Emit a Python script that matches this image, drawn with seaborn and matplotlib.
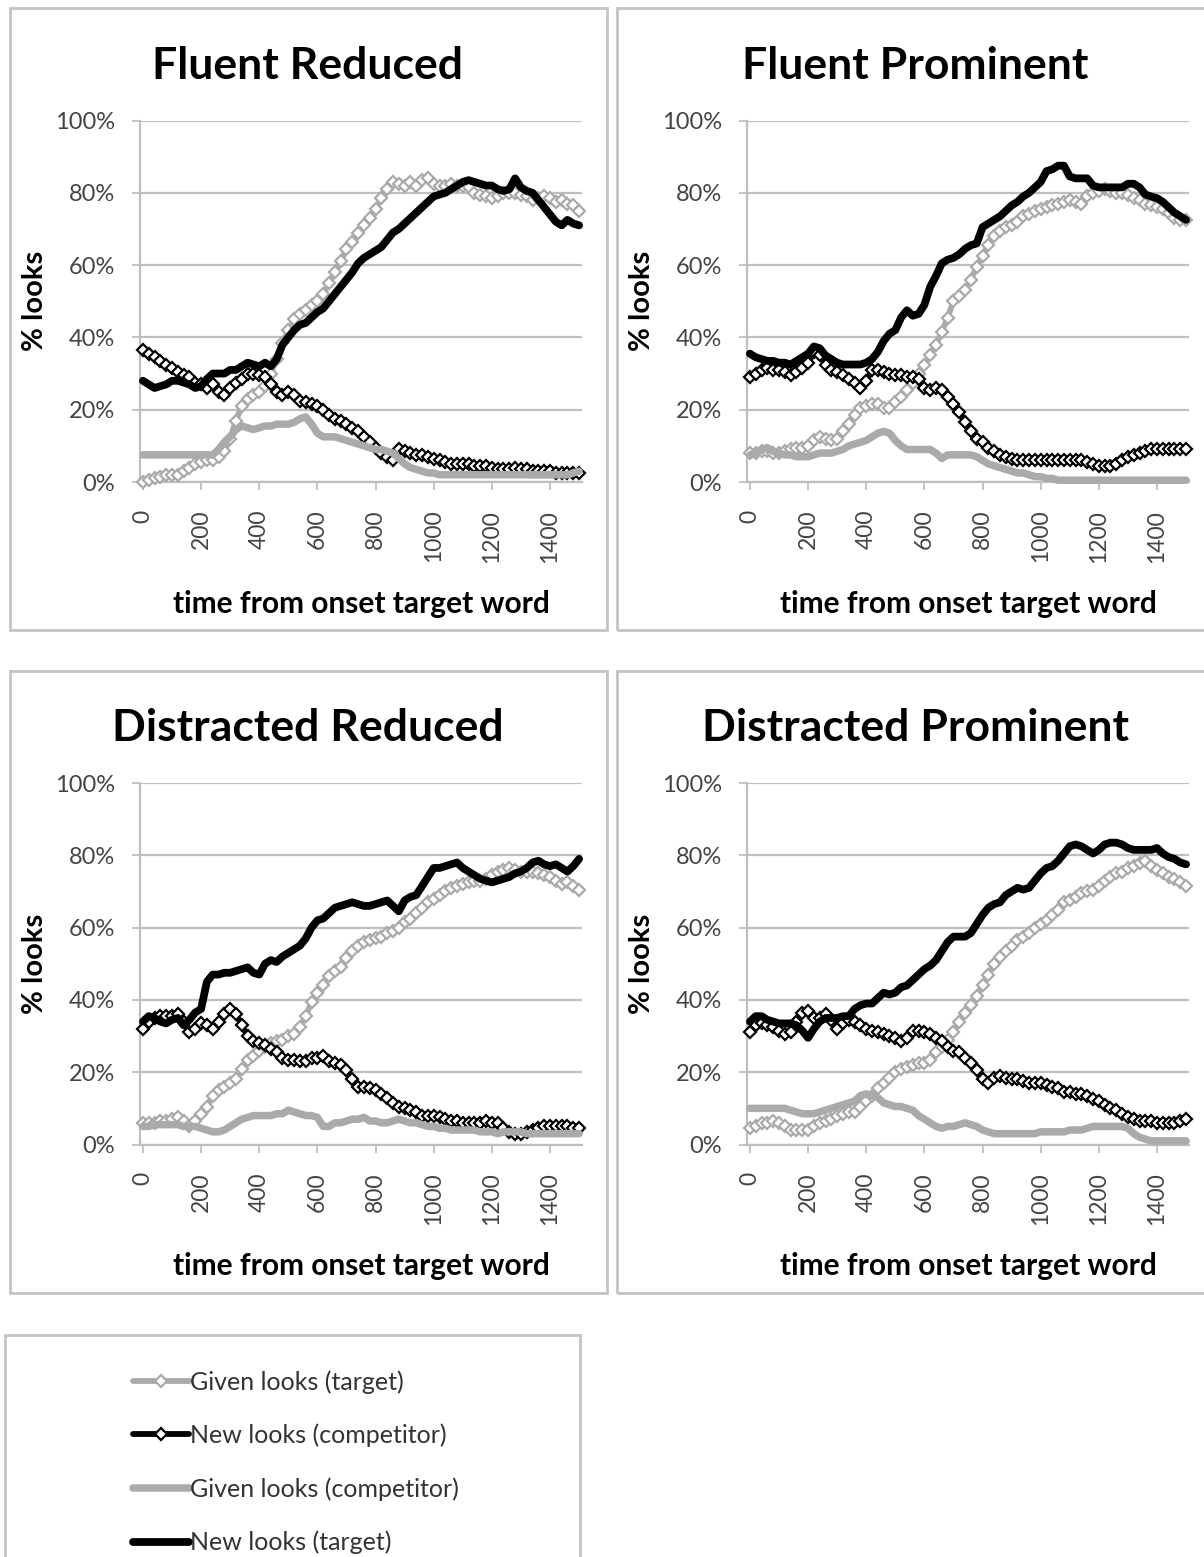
import matplotlib
matplotlib.use("Agg")
import matplotlib.pyplot as plt
from matplotlib.patches import Rectangle
from matplotlib.lines import Line2D
import seaborn as sns

# ---------------- data (percent of looks, one value every 20 ms) ----------------
time_ms = list(range(0, 1501, 20))

panel_titles = ["Fluent Reduced", "Fluent Prominent", "Distracted Reduced", "Distracted Prominent"]
series_labels = ["Given looks (target)", "New looks (competitor)",
                 "Given looks (competitor)", "New looks (target)"]
y_ticks = [0, 20, 40, 60, 80, 100]
y_tick_labels = ["0%", "20%", "40%", "60%", "80%", "100%"]
x_ticks = [0, 200, 400, 600, 800, 1000, 1200, 1400]
x_tick_labels = ["0", "200", "400", "600", "800", "1000", "1200", "1400"]
x_label = "time from onset target word"
y_label = "% looks"

# Fluent Reduced
fr_given_target = [0, 0.5, 1, 1.5, 2, 2, 2, 3, 4, 5,
                   5.5, 6, 6, 7, 8.5, 12, 17, 21, 23, 24,
                   25, 26.5, 30, 34, 38.5, 42, 45, 46.5, 47.5, 49,
                   50, 52, 55, 58, 61, 64.5, 66.5, 69, 71, 73,
                   75.5, 78.5, 81, 83, 82.5, 82, 83, 82, 83.5, 84,
                   82.5, 82, 82, 82.5, 82, 82, 81.5, 80, 79.5, 79,
                   78.5, 79, 80, 80, 80, 79.5, 79, 78, 78.5, 79,
                   78.5, 77.5, 78, 77, 76.5, 75]
fr_new_comp = [36.5, 35.5, 34.5, 33.5, 32.5, 31.5, 30.5, 29.5, 29, 27.5,
               27, 26, 27, 25, 24, 26, 27.5, 28.5, 30, 30,
               29.5, 29, 27, 25, 24, 25, 24, 22.5, 22, 21.5,
               21, 20, 18.5, 17.5, 17, 16, 15, 14, 12.5, 11,
               9.5, 8, 7, 6, 9, 8.5, 8, 7.5, 7.5, 7,
               6.5, 6, 5.5, 5, 5, 5, 5, 4.5, 4.5, 4.5,
               4, 3.5, 3.5, 3.5, 4, 3.5, 3.5, 3, 3, 3,
               3, 2.5, 2.5, 2.5, 2.5, 2.5]
fr_given_comp = [7.5, 7.5, 7.5, 7.5, 7.5, 7.5, 7.5, 7.5, 7.5, 7.5,
                 7.5, 7.5, 7.5, 9, 11, 12.5, 14.5, 15.5, 15, 14.5,
                 15, 15.5, 15.5, 16, 16, 16, 16.5, 17.5, 18, 16,
                 13.5, 12.5, 12.5, 12.5, 12, 11.5, 11, 10.5, 10, 9.5,
                 9, 9, 8.5, 8, 6.5, 5, 4, 3.5, 3, 2.5,
                 2.5, 2, 2, 2, 2, 2, 2, 2, 2, 2,
                 2, 2, 2, 2, 2, 2, 2, 2, 2, 2,
                 2, 2, 2, 2, 2.5, 3]
fr_new_target = [28, 27, 26, 26.5, 27, 28, 28, 27.5, 27, 26,
                 26.5, 28.5, 30, 30, 30, 31, 31, 32, 33, 32.5,
                 32, 33, 32, 34, 38, 40, 42, 43.5, 44, 45.5,
                 47, 48, 50, 52, 54, 56, 58, 60.5, 62, 63,
                 64, 65, 67, 69, 70, 71.5, 73, 74.5, 76, 77.5,
                 79, 79.5, 80, 81, 82, 83, 83.5, 83, 82.5, 82,
                 82, 81, 80.5, 81, 84, 81.5, 80.5, 80, 78, 76,
                 74, 72, 71, 72.5, 71.5, 71]

# Fluent Prominent
fp_given_target = [8, 8, 8.5, 8.5, 8, 8, 8.5, 9, 9.5, 9.5,
                   10, 11.5, 12.5, 12, 11.5, 12, 14, 16, 18.5, 20.5,
                   21, 21.5, 21.5, 20.5, 20.5, 22, 23.5, 25.5, 27.5, 30,
                   32.5, 35, 38, 41.5, 45.5, 50, 51.5, 53, 56, 59.5,
                   62.5, 65.5, 68, 69.5, 70.5, 71, 72, 73.5, 74, 75,
                   75.5, 76, 76.5, 77, 77.5, 78, 77.5, 77, 79, 80,
                   80.5, 81, 80.5, 80, 80, 79.5, 78.5, 78, 77, 76.5,
                   76, 75.5, 74.5, 73, 72.5, 72.5]
fp_new_comp = [29, 30, 31, 31.5, 31, 31, 30.5, 29.5, 30.5, 31.5,
               33, 36, 35, 32.5, 31, 30.5, 29.5, 28.5, 27.5, 26,
               28, 31, 31, 30.5, 30, 29.5, 29.5, 29, 29, 28.5,
               26, 25.5, 26, 25.5, 23.5, 21.5, 19.5, 16.5, 14, 12,
               11, 9.5, 8.5, 7.5, 7, 6.5, 6, 6, 6, 6,
               6, 6, 6, 6, 6, 6, 6, 6, 5.5, 5,
               4.5, 4.5, 4.5, 5, 6, 7, 7.5, 8, 8.5, 9,
               9, 9, 9, 9, 9, 9]
fp_given_comp = [7.5, 8, 9, 9.5, 8.5, 8, 7.5, 7.5, 7, 7,
                 7, 7.5, 8, 8, 8, 8.5, 9, 10, 10.5, 11,
                 11.5, 12.5, 13.5, 14, 13.5, 11.5, 10, 9, 9, 9,
                 9, 9, 8, 6.5, 7.5, 7.5, 7.5, 7.5, 7.5, 7,
                 6, 5, 4.5, 4, 3.5, 3, 2.5, 2.5, 2, 1.5,
                 1.5, 1, 1, 0.5, 0.5, 0.5, 0.5, 0.5, 0.5, 0.5,
                 0.5, 0.5, 0.5, 0.5, 0.5, 0.5, 0.5, 0.5, 0.5, 0.5,
                 0.5, 0.5, 0.5, 0.5, 0.5, 0.5]
fp_new_target = [35.5, 34.5, 34, 33.5, 33.5, 33, 33, 32.5, 33.5, 34.5,
                 35.5, 37.5, 37, 35, 34, 33, 32.5, 32.5, 32.5, 32.5,
                 33, 34, 36, 39, 41, 42, 45.5, 47.5, 46, 46.5,
                 49, 54, 57, 60.5, 61.5, 62, 63, 64.5, 65.5, 66,
                 70.5, 71.5, 72.5, 73.5, 75, 76.5, 77.5, 79, 80, 81.5,
                 83, 86, 86.5, 87.5, 87.5, 84.5, 84, 84, 84, 82,
                 81.5, 81.5, 81.5, 81.5, 81.5, 82.5, 82.5, 81.5, 79.5, 79,
                 78.5, 77.5, 76, 74.5, 73.5, 72.5]

# Distracted Reduced
dr_given_target = [6, 6, 6, 6.5, 6.5, 7, 7.5, 6.5, 5, 6.5,
                   8.5, 10.5, 13.5, 15, 16, 17, 18, 21, 23.5, 24.5,
                   26, 27, 28, 28.5, 29, 30, 30.5, 32.5, 35.5, 39.5,
                   42, 44, 46.5, 48, 49, 51.5, 53.5, 55, 56, 56.5,
                   57, 57.5, 58.5, 59, 60, 61.5, 62.5, 64, 65.5, 67,
                   68, 69, 70, 71, 71.5, 72, 72.5, 73, 73, 73.5,
                   74.5, 75.5, 76, 76.5, 76, 75.5, 75.5, 75.5, 75, 74.5,
                   74, 73, 72, 72.5, 71.5, 70.5]
dr_new_comp = [32, 34, 35, 35.5, 35.5, 35.5, 36, 34, 31, 32,
               33.5, 33, 32, 34, 36, 37.5, 36, 33, 30, 28.5,
               28, 27.5, 26.5, 25.5, 24, 23.5, 23.5, 23, 23, 24,
               24, 24.5, 23, 22.5, 22, 20.5, 18, 16, 16, 15.5,
               15, 14, 13, 11.5, 10.5, 10, 9.5, 9, 8, 8,
               8, 7.5, 7, 6.5, 6.5, 6, 6, 6, 6, 6.5,
               6, 6, 4.5, 3.5, 3, 3, 3.5, 4, 4.5, 5,
               5, 5, 5, 5, 4.5, 4.5]
dr_given_comp = [5, 5, 5.5, 5.5, 5.5, 5.5, 5.5, 5, 5, 5,
                 4.5, 4, 3.5, 3.5, 4, 5, 6, 7, 7.5, 8,
                 8, 8, 8, 8.5, 8.5, 9.5, 9, 8.5, 8, 8,
                 7.5, 5, 5, 6, 6, 6.5, 7, 7, 7.5, 6.5,
                 6.5, 6, 6, 6.5, 7, 6.5, 6, 6, 5.5, 5,
                 5, 4.5, 4.5, 4, 4, 4, 4, 4, 3.5, 3.5,
                 3.5, 3, 3.5, 3.5, 3.5, 3.5, 3, 3, 3, 3,
                 3, 3, 3, 3, 3, 3]
dr_new_target = [34, 35.5, 35, 34, 33.5, 34.5, 35, 33, 34.5, 36.5,
                 37.5, 45, 47, 47, 47.5, 47.5, 48, 48.5, 49, 47.5,
                 47, 50, 51, 50.5, 52, 53, 54, 55, 57, 60,
                 62, 62.5, 64, 65.5, 66, 66.5, 67, 66.5, 66, 66,
                 66.5, 67, 67.5, 66, 64.5, 67.5, 68.5, 69, 71.5, 74,
                 76.5, 76.5, 77, 77.5, 78, 76.5, 75.5, 74.5, 73.5, 73,
                 72.5, 73, 73.5, 74, 75, 75.5, 76.5, 78, 78.5, 77.5,
                 77, 77.5, 76.5, 75.5, 77, 79]

# Distracted Prominent
dp_given_target = [4.5, 5, 6, 6, 6.5, 6, 5, 4, 4, 4,
                   4, 5, 6, 6.5, 7, 8, 8.5, 9, 9, 10.5,
                   12, 13.5, 15.5, 17, 18.5, 20, 21, 21.5, 22, 22.5,
                   22.5, 23.5, 25.5, 27, 29, 31, 34, 36.5, 38.5, 41,
                   44, 47, 50, 52, 53.5, 55, 56.5, 57.5, 58.5, 60,
                   61, 62, 63.5, 65, 67, 67.5, 68.5, 69.5, 70, 70.5,
                   71.5, 73, 74, 75, 75.5, 76.5, 77, 78, 78.5, 77,
                   76, 75, 74, 73.5, 72.5, 71.5]
dp_new_comp = [31, 33, 33.5, 33, 32.5, 31.5, 30.5, 31, 34, 36.5,
               37, 35, 35, 36, 34.5, 32, 33.5, 34.5, 34, 33,
               32, 31.5, 31, 30.5, 30, 29.5, 28.5, 29.5, 31.5, 31.5,
               31, 30.5, 29.5, 28.5, 27, 26, 25.5, 24, 22.5, 20.5,
               18, 17, 18.5, 19, 18.5, 18, 18, 17.5, 17, 17,
               17, 16.5, 16, 15.5, 14.5, 14.5, 14, 14, 13.5, 12.5,
               12, 11, 10, 9.5, 8.5, 7.5, 7, 6.5, 6.5, 6.5,
               6, 6, 6, 6, 6.5, 7]
dp_given_comp = [10, 10, 10, 10, 10, 10, 10, 9.5, 9, 8.5,
                 8.5, 8.5, 9, 9.5, 10, 10.5, 11, 11.5, 12, 13.5,
                 14, 13.5, 13, 11.5, 11, 10.5, 10.5, 10, 9.5, 8,
                 7, 6, 5, 4.5, 5, 5, 5.5, 6, 5.5, 5,
                 4, 3.5, 3, 3, 3, 3, 3, 3, 3, 3,
                 3.5, 3.5, 3.5, 3.5, 3.5, 4, 4, 4, 4.5, 5,
                 5, 5, 5, 5, 5, 4.5, 3, 2, 1.5, 1,
                 1, 1, 1, 1, 1, 1]
dp_new_target = [34, 35.5, 35.5, 34.5, 34, 33.5, 33.5, 33.5, 33, 31.5,
                 29.5, 32, 34, 35, 35, 35, 35.5, 35.5, 37.5, 38.5,
                 39, 39, 40.5, 42, 41.5, 42, 43.5, 44, 45.5, 47,
                 48.5, 49.5, 51, 53.5, 56, 57.5, 57.5, 57.5, 58.5, 61,
                 63.5, 65.5, 66.5, 67, 69, 70, 71, 70.5, 71, 73,
                 75, 76.5, 77, 78.5, 80.5, 82.5, 83, 82.5, 81.5, 80.5,
                 81.5, 83, 83.5, 83.5, 83, 82, 81.5, 81.5, 81.5, 81.5,
                 82, 80.5, 79.5, 79, 78, 77.5]

panel_series = [
    [fr_given_target, fr_new_comp, fr_given_comp, fr_new_target],
    [fp_given_target, fp_new_comp, fp_given_comp, fp_new_target],
    [dr_given_target, dr_new_comp, dr_given_comp, dr_new_target],
    [dp_given_target, dp_new_comp, dp_given_comp, dp_new_target],
]
for group in panel_series:
    for s in group:
        assert len(s) == len(time_ms), len(s)

# ---------------- styling ----------------
sns.set_style("white")
plt.rcParams["font.family"] = ["Lato", "DejaVu Sans"]

GREY = "#aaaaaa"
GRID = "#bfbfbf"
BOX = "#c4c4c4"
TICK_TXT = "#444444"

series_styles = [
    dict(color=GREY, linewidth=4.2, marker="D", markersize=6.2, markerfacecolor="white",
         markeredgecolor=GREY, markeredgewidth=1.6, zorder=3),
    dict(color="black", linewidth=4.2, marker="D", markersize=6.2, markerfacecolor="white",
         markeredgecolor="black", markeredgewidth=1.6, zorder=4),
    dict(color=GREY, linewidth=5.4, zorder=5),
    dict(color="black", linewidth=5.6, zorder=6),
]

W, H = 1204, 1557
fig = plt.figure(figsize=(W / 100, H / 100), dpi=100)


def fx(x):
    return x / W


def fy(y):
    return 1 - y / H


col_dx = [0, 607]
row_dy = [0, 662.5]

for i, title in enumerate(panel_titles):
    dx = col_dx[i % 2]
    dy = row_dy[i // 2]

    # panel frame
    fig.add_artist(Rectangle((fx(10 + dx), fy(630 + dy)), 597 / W, 622 / H,
                             transform=fig.transFigure, fill=False,
                             edgecolor=BOX, linewidth=2.0))

    left, right, top, bottom = 140 + dx, 582 + dx, 120.5 + dy, 482 + dy
    ax = fig.add_axes([fx(left), fy(bottom), (right - left) / W, (bottom - top) / H])

    for vals, st in zip(panel_series[i], series_styles):
        sns.lineplot(x=time_ms, y=vals, ax=ax, legend=False, clip_on=False, **st)

    ax.set_xlim(-10, 1510)
    ax.set_ylim(0, 100)
    ax.set_yticks(y_ticks)
    ax.set_yticklabels(y_tick_labels)
    ax.set_xticks(x_ticks)
    ax.set_xticklabels(x_tick_labels, rotation=90)
    ax.set_xlabel("")
    ax.set_ylabel("")
    ax.yaxis.grid(True, color=GRID, linewidth=1.6)
    ax.xaxis.grid(False)
    ax.set_axisbelow(True)
    for side in ("top", "right"):
        ax.spines[side].set_visible(False)
    for side in ("left", "bottom"):
        ax.spines[side].set_color(GRID)
        ax.spines[side].set_linewidth(1.6)
    ax.tick_params(axis="y", direction="out", length=6, width=1.3, color=GRID,
                   pad=12, labelsize=17, labelcolor=TICK_TXT, left=True)
    ax.tick_params(axis="x", direction="out", length=6, width=1.3, color=GRID,
                   pad=14, labelsize=16.5, labelcolor=TICK_TXT, bottom=True)

    fig.text(fx(308 + dx), fy(79 + dy), title, ha="center", va="baseline",
             fontsize=32, fontweight="bold", color="black")
    fig.text(fx(35 + dx), fy(301 + dy), y_label, ha="center", va="center",
             rotation=90, fontsize=21, fontweight="bold", color="black")
    fig.text(fx(361 + dx), fy(604 + dy), x_label, ha="center", va="center",
             fontsize=21.5, fontweight="bold", color="black")

# legend frame and entries
fig.add_artist(Rectangle((fx(5), fy(1600)), 575 / W, (1600 - 1335) / H,
                         transform=fig.transFigure, fill=False,
                         edgecolor=BOX, linewidth=2.0, clip_on=False))
handles = []
for st in series_styles:
    kw = dict(st)
    kw.pop("zorder", None)
    handles.append(Line2D([], [], **kw))
fig.legend(handles, series_labels, loc="upper left",
           bbox_to_anchor=(fx(133), fy(1370)), frameon=False,
           fontsize=18, labelcolor="#333333", handlelength=2.25,
           handletextpad=0.05, labelspacing=1.2, borderpad=0,
           borderaxespad=0, numpoints=1)

fig.savefig("out.png", dpi=100)
